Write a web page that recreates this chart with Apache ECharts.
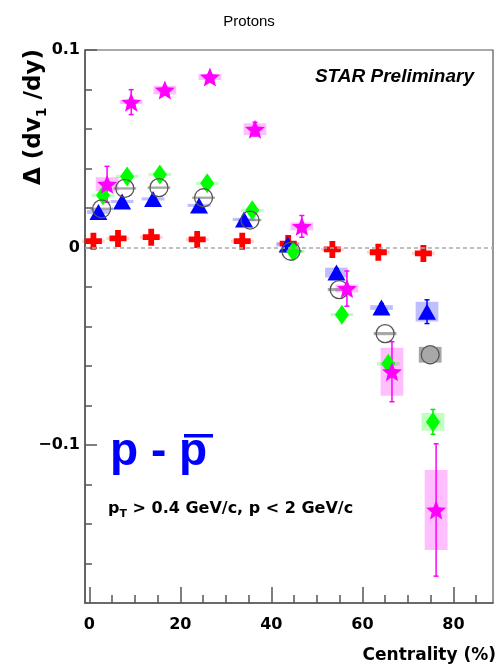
<!DOCTYPE html>
<html><head><meta charset="utf-8">
<script src="https://cdn.jsdelivr.net/npm/echarts@6/dist/echarts.min.js"></script>
<style>html,body{margin:0;padding:0;background:#fff}#c{width:498px;height:666px}</style>
</head><body><div id="c"></div>
<script>
// ---- data ----
// red crosses
const crossX   = [0.9, 6.3, 13.6, 23.7, 33.6, 43.7, 53.4, 63.5, 73.4];
const crossY   = [0.0032, 0.0046, 0.0052, 0.0041, 0.0032, 0.0020, -0.0010, -0.0024, -0.0030];
const crossSys = [0.0008, 0.0008, 0.0008, 0.0008, 0.0008, 0.0008, 0.0008, 0.0008, 0.0008];
// blue triangles
const triX    = [2.0, 7.2, 14.0, 24.1, 34.0, 43.6, 54.3, 64.2, 74.2];
const triY    = [0.0180, 0.0233, 0.0246, 0.0213, 0.0142, 0.0015, -0.0127, -0.0304, -0.0325];
const triStat = [0.0008, 0.0008, 0.0008, 0.0008, 0.0010, 0.0010, 0.0020, 0.0020, 0.0060];
const triSys  = [0.0010, 0.0008, 0.0008, 0.0008, 0.0008, 0.0010, 0.0025, 0.0012, 0.0050];
// open circles
const circX    = [2.7, 7.8, 15.3, 25.1, 35.3, 44.3, 54.9, 65.0, 74.9];
const circY    = [0.0196, 0.0299, 0.0303, 0.0252, 0.0139, -0.0019, -0.0213, -0.0436, -0.0543];
const circStat = [0.0008, 0.0008, 0.0008, 0.0008, 0.0010, 0.0010, 0.0015, 0.0015, 0.0030];
const circSys  = [0.0006, 0.0006, 0.0006, 0.0006, 0.0006, 0.0006, 0.0008, 0.0008, 0.0040];
// green diamonds
const diaX    = [3.0, 8.3, 15.5, 25.9, 35.8, 44.8, 55.5, 65.7, 75.5];
const diaY    = [0.0264, 0.0360, 0.0370, 0.0325, 0.0188, -0.0020, -0.0340, -0.0589, -0.0883];
const diaStat = [0.0010, 0.0010, 0.0010, 0.0010, 0.0020, 0.0010, 0.0020, 0.0020, 0.0063];
const diaSys  = [0.0008, 0.0008, 0.0008, 0.0008, 0.0008, 0.0008, 0.0008, 0.0010, 0.0045];
// magenta stars
const starX    = [3.9, 9.2, 16.6, 26.5, 36.4, 46.7, 56.6, 66.5, 76.2];
const starY    = [0.0320, 0.0736, 0.0797, 0.0863, 0.0599, 0.0107, -0.0208, -0.0629, -0.1329];
const starStat = [0.0091, 0.0063, 0.0015, 0.0015, 0.0035, 0.0055, 0.0089, 0.0152, 0.0335];
const starSys  = [0.0036, 0.0010, 0.0022, 0.0015, 0.0030, 0.0020, 0.0020, 0.0122, 0.0203];
// axis ticks
const xMajorTicks = [0, 20, 40, 60, 80];
const xMinorTicks = [5, 10, 15, 25, 30, 35, 45, 50, 55, 65, 70, 75, 85];
const yMajorTicks = [-0.1, 0, 0.1];
const yMinorTicks = [-0.16, -0.14, -0.12, -0.08, -0.06, -0.04, -0.02, 0.02, 0.04, 0.06, 0.08];

// ---- styling ----
const BOX_HALF = 2.5;
const AX = '#555';
const LBL = {fontFamily: 'DejaVu Sans', fontWeight: 'bold', fontSize: 16, color: '#000'};
const zip3 = (a, b, c) => a.map((v, i) => [v, b[i], c[i]]);
const zip2 = (a, b) => a.map((v, i) => [v, b[i]]);

function boxRender(fill) {
  return function (params, api) {
    const x = api.value(0), y = api.value(1), s = api.value(2);
    const p1 = api.coord([x - BOX_HALF, y + s]);
    const p2 = api.coord([x + BOX_HALF, y - s]);
    const h = Math.max(p2[1] - p1[1], 2);
    return {type: 'rect', shape: {x: p1[0], y: (p1[1] + p2[1]) / 2 - h / 2, width: p2[0] - p1[0], height: h},
            style: {fill: fill}};
  };
}
// error bar drawn outside a gap of `gap` px around the marker centre
function errRender(color, gap) {
  return function (params, api) {
    const x = api.value(0), y = api.value(1), e = api.value(2);
    const c = api.coord([x, y]), t = api.coord([x, y + e]), b = api.coord([x, y - e]);
    const st = {stroke: color, lineWidth: 1.5};
    if (c[1] - t[1] <= gap) return {type: 'group', children: []};
    return {type: 'group', children: [
      {type: 'line', shape: {x1: t[0], y1: t[1], x2: t[0], y2: c[1] - gap}, style: st},
      {type: 'line', shape: {x1: b[0], y1: c[1] + gap, x2: b[0], y2: b[1]}, style: st},
      {type: 'line', shape: {x1: t[0] - 2.5, y1: t[1], x2: t[0] + 2.5, y2: t[1]}, style: st},
      {type: 'line', shape: {x1: b[0] - 2.5, y1: b[1], x2: b[0] + 2.5, y2: b[1]}, style: st}
    ]};
  };
}
function boxSeries(x, y, s, fill) {
  return {type: 'custom', xAxisIndex: 0, yAxisIndex: 0, z: 1, silent: true,
          dimensions: ['x', 'y', 's'], encode: {x: 0, y: 1},
          data: zip3(x, y, s), renderItem: boxRender(fill)};
}
function errSeries(x, y, e, color, gap) {
  return {type: 'custom', xAxisIndex: 0, yAxisIndex: 0, z: 3, silent: true,
          dimensions: ['x', 'y', 'e'], encode: {x: 0, y: 1},
          data: zip3(x, y, e), renderItem: errRender(color, gap)};
}

const STAR_PATH = 'path://M50 0 L62.93 32.2 L97.55 34.55 L70.92 56.8 L79.39 90.45 L50 72 L20.61 90.45 L29.08 56.8 L2.45 34.55 L37.07 32.2 Z';
const CROSS_PATH = 'path://M33 0 H67 V33 H100 V67 H67 V100 H33 V67 H0 V33 H33 Z';

const chart = echarts.init(document.getElementById('c'), null, {renderer: 'canvas'});
const gridBox = {left: 85, right: 5, top: 50, bottom: 63, outerBoundsMode: 'none', containLabel: false};

chart.setOption({
  animation: false,
  backgroundColor: '#fff',
  title: {text: 'Protons', left: 'center', top: 9,
          textStyle: {fontFamily: 'Liberation Sans', fontWeight: 'normal', fontSize: 15, color: '#000'}},
  grid: [
    Object.assign({show: true, borderColor: AX, borderWidth: 1.2, backgroundColor: 'rgba(0,0,0,0)'}, gridBox),
    Object.assign({show: false}, gridBox)
  ],
  xAxis: [
    {type: 'value', gridIndex: 0, min: -0.95, max: 88.7, position: 'bottom',
     axisLine: {show: true, onZero: false, lineStyle: {color: AX, width: 1.5}},
     axisTick: {show: true, inside: true, length: 16, customValues: xMajorTicks, lineStyle: {color: AX, width: 1.5}},
     axisLabel: Object.assign({customValues: xMajorTicks, margin: 14}, LBL),
     splitLine: {show: false},
     name: 'Centrality (%)', nameLocation: 'end', nameGap: 3,
     nameTextStyle: {fontFamily: 'DejaVu Sans', fontWeight: 'bold', fontSize: 17, color: '#000',
                     align: 'right', verticalAlign: 'top', padding: [44, 0, 0, 0]}},
    {type: 'value', gridIndex: 1, min: -0.95, max: 88.7, position: 'bottom',
     axisLine: {show: false, onZero: false},
     axisTick: {show: true, inside: true, length: 8, customValues: xMinorTicks, lineStyle: {color: AX, width: 1.5}},
     axisLabel: {show: false}, splitLine: {show: false}}
  ],
  yAxis: [
    {type: 'value', gridIndex: 0, min: -0.18, max: 0.1, position: 'left',
     axisLine: {show: true, onZero: false, lineStyle: {color: AX, width: 1.5}},
     axisTick: {show: true, inside: true, length: 12, customValues: yMajorTicks, lineStyle: {color: AX, width: 1.5}},
     axisLabel: Object.assign({customValues: yMajorTicks, margin: 5,
       formatter: v => Math.abs(v) < 1e-9 ? '0' : (v < 0 ? '\u2212' + String(+(-v).toFixed(3)) : String(+v.toFixed(3)))}, LBL),
     splitLine: {show: false}},
    {type: 'value', gridIndex: 1, min: -0.18, max: 0.1, position: 'left',
     axisLine: {show: false, onZero: false},
     axisTick: {show: true, inside: true, length: 7, customValues: yMinorTicks, lineStyle: {color: AX, width: 1.5}},
     axisLabel: {show: false}, splitLine: {show: false}}
  ],
  graphic: [
    {type: 'text', x: 34, y: 117, rotation: Math.PI / 2, z: 10,
     style: {text: '{a|\u0394 (dv}{s|1}{a| /dy)}', align: 'center', verticalAlign: 'middle',
             rich: {a: {fontFamily: 'DejaVu Sans', fontWeight: 'bold', fontSize: 23, lineHeight: 30, fill: '#000'},
                    s: {fontFamily: 'DejaVu Sans', fontWeight: 'bold', fontSize: 14, lineHeight: 30, verticalAlign: 'bottom', fill: '#000'}}}},
    {type: 'text', x: 474, y: 77, z: 10,
     style: {text: 'STAR Preliminary', align: 'right', verticalAlign: 'middle',
             font: 'italic bold 19px "Liberation Sans"', fill: '#000'}},
    {type: 'text', x: 110, y: 452, z: 10,
     style: {text: 'p - p', align: 'left', verticalAlign: 'middle',
             font: 'bold 46px "Liberation Sans"', fill: '#0000ff'}},
    {type: 'rect', x: 184, y: 434, z: 10, shape: {width: 29, height: 3.5}, style: {fill: '#0000ff'}},
    {type: 'text', x: 108, y: 509, z: 10,
     style: {text: '{a|p}{s|T}{a| > 0.4 GeV/c, p < 2 GeV/c}', align: 'left', verticalAlign: 'middle',
             rich: {a: {fontFamily: 'DejaVu Sans', fontWeight: 'bold', fontSize: 16, lineHeight: 22, fill: '#000'},
                    s: {fontFamily: 'DejaVu Sans', fontWeight: 'bold', fontSize: 11, lineHeight: 22, verticalAlign: 'bottom', fill: '#000'}}}}
  ],
  series: [
    boxSeries(crossX, crossY, crossSys, 'rgba(255,0,0,0.18)'),
    boxSeries(triX, triY, triSys, 'rgba(0,0,255,0.25)'),
    boxSeries(circX, circY, circSys, 'rgba(110,110,110,0.6)'),
    boxSeries(diaX, diaY, diaSys, 'rgba(0,255,0,0.25)'),
    boxSeries(starX, starY, starSys, 'rgba(255,0,255,0.25)'),
    {type: 'line', xAxisIndex: 0, yAxisIndex: 0, data: [], silent: true, z: 0,
     markLine: {silent: true, symbol: 'none', label: {show: false},
                lineStyle: {type: [4, 3], color: '#aaa', width: 1.5}, data: [{yAxis: 0}]}},
    errSeries(triX, triY, triStat, '#0000ff', 0),
    errSeries(circX, circY, circStat, '#555', 9),
    errSeries(diaX, diaY, diaStat, '#00ee00', 0),
    errSeries(starX, starY, starStat, '#ff00ff', 0),
    {type: 'scatter', name: 'cross', z: 4, data: zip2(crossX, crossY), symbol: CROSS_PATH, symbolSize: [17, 17],
     itemStyle: {color: '#ff0000', opacity: 1}},
    {type: 'scatter', name: 'triangle', z: 4, data: zip2(triX, triY), symbol: 'triangle', symbolSize: [18, 16],
     itemStyle: {color: '#0000ff', opacity: 1}},
    {type: 'scatter', name: 'diamond', z: 4, data: zip2(diaX, diaY), symbol: 'diamond', symbolSize: [14, 20],
     itemStyle: {color: '#00ff00', opacity: 1}},
    {type: 'scatter', name: 'circle', z: 5, data: zip2(circX, circY), symbol: 'circle', symbolSize: 18,
     itemStyle: {color: 'rgba(0,0,0,0)', borderColor: '#555', borderWidth: 1.3, opacity: 1}},
    {type: 'scatter', name: 'star', z: 5, data: zip2(starX, starY), symbol: STAR_PATH, symbolSize: [20, 19],
     itemStyle: {color: '#ff00ff', opacity: 1}}
  ]
});
</script>
</body></html>
